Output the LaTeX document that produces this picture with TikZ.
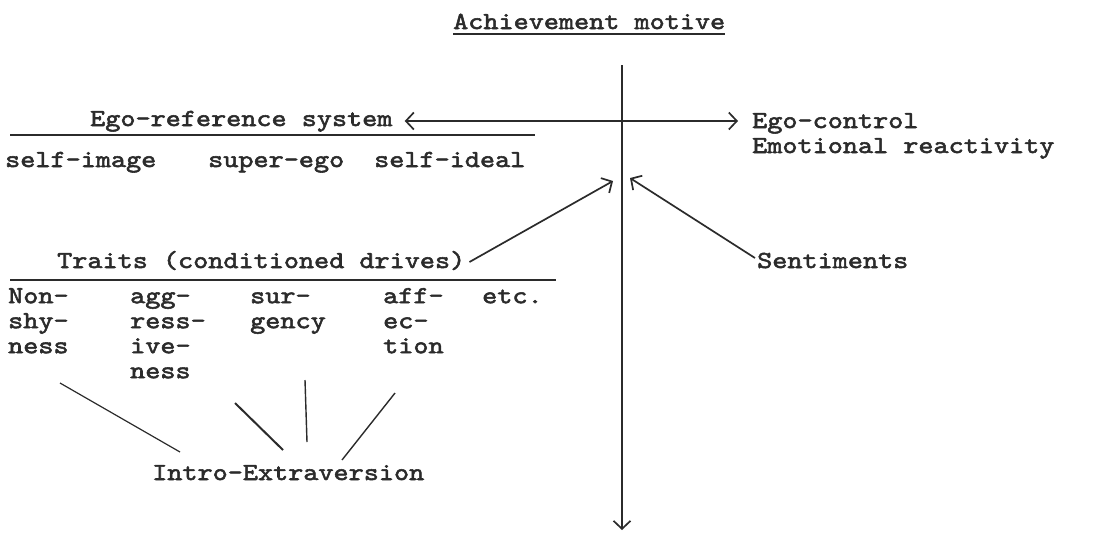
\documentclass[tikz,border=0pt]{standalone}
\usepackage{fontspec}
\usetikzlibrary{arrows.meta}
\newfontfamily\twfont{lmmono10-regular.otf}[FakeBold=2.2,FakeStretch=1.175]
\definecolor{ink}{HTML}{2B2B2B}
\begin{document}
\begin{tikzpicture}[x=1pt,y=-1pt,
  tw/.style={font=\fontsize{24.5}{25}\selectfont\twfont, text=ink, inner sep=0pt, anchor=base west, text height=16pt, text depth=5pt},
  col/.style={font=\fontsize{24.5}{25}\selectfont\twfont, text=ink, inner sep=0pt, anchor=north west, align=left},
  rule/.style={draw=ink, line width=2.2pt},
  conn/.style={draw=ink, line width=1.7pt},
  barb/.style={-{Straight Barb[length=8pt,width=17pt,line width=1.7pt]}},
  dbarb/.style={{Straight Barb[length=8pt,width=17pt,line width=1.7pt]}-{Straight Barb[length=8pt,width=17pt,line width=1.7pt]}}
]
\useasboundingbox (0,0) rectangle (1095,539);
% title
\node[tw] (title) at (453,29) {Achievement motive};
\draw[rule] ([yshift=-5pt]title.base west) -- ([yshift=-5pt]title.base east);
% main axis
\coordinate (top) at (622,65);
\coordinate (bot) at (622,530);
\draw[ink, line width=2.6pt, barb] (top) -- (bot);
% ego reference
\node[tw] (ers) at (90,126) {Ego-reference system};
\coordinate (ersL) at (10,135);
\coordinate (ersR) at (535,135);
\draw[rule] (ersL) -- (ersR);
\node[tw] (ec) at (752,128) {Ego-control};
\node[tw] (er) at (752,153) {Emotional reactivity};
\draw[conn, dbarb] ([xshift=12pt,yshift=5pt]ers.base east) -- ([xshift=-14pt,yshift=7pt]ec.base west);
\node[tw] (si) at (5,167) {self-image};
\node[tw] (se) at (208,167) {super-ego};
\node[tw] (sid) at (374,167) {self-ideal};
% traits
\node[tw] (tr) at (57,268) {Traits (conditioned drives)};
\coordinate (trL) at (10,280);
\coordinate (trR) at (556,280);
\draw[rule] (trL) -- (trR);
\node[tw] (sen) at (757,268) {Sentiments};
\coordinate (h1) at (613,181);
\coordinate (h2) at (630,178);
\draw[conn, barb] ([xshift=4pt,yshift=6pt]tr.base east) -- (h1);
\draw[conn, barb] ([xshift=-2pt,yshift=10pt]sen.base west) -- (h2);
% columns
\node[col] (nonshy) at (8,285) {\rule{0pt}{18pt}Non-\\shy-\\ness};
\node[col] (aggr) at (130,285) {\rule{0pt}{18pt}agg-\\ress-\\ive-\\ness};
\node[col] (surg) at (250,285) {\rule{0pt}{18pt}sur-\\gency};
\node[col] (affe) at (383,285) {\rule{0pt}{18pt}aff-\\ec-\\tion};
\node[col] (etc) at (482,285) {\rule{0pt}{18pt}etc.};
\node[tw] (ie) at (152,480) {Intro-Extraversion};
\coordinate (c1a) at (60,383);  \coordinate (c1b) at (180,452);
\coordinate (c2a) at (235,403); \coordinate (c2b) at (283,450);
\coordinate (c3a) at (305,380); \coordinate (c3b) at (307,442);
\coordinate (c4a) at (395,393); \coordinate (c4b) at (342,460);
\draw[conn, line width=1.2pt] (c1a) -- (c1b);
\draw[conn, line width=2pt] (c2a) -- (c2b);
\draw[conn, line width=1.4pt] (c3a) -- (c3b);
\draw[conn, line width=1.4pt] (c4a) -- (c4b);
\end{tikzpicture}
\end{document}
